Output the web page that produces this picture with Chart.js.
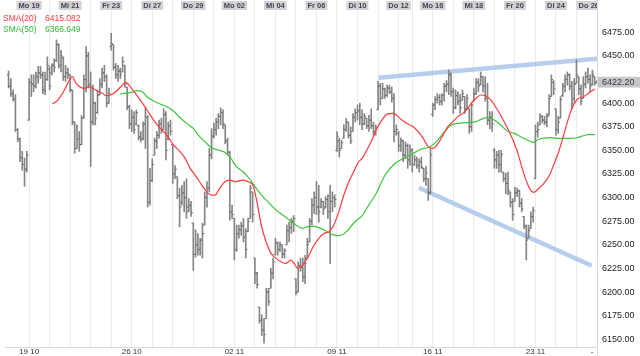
<!DOCTYPE html>
<html><head><meta charset="utf-8">
<script src="https://cdn.jsdelivr.net/npm/chart.js@4.4.0/dist/chart.umd.min.js"></script>
<style>html,body{margin:0;padding:0;background:#fff;}canvas{display:block;}</style>
</head><body>
<canvas id="c" width="640" height="356"></canvas>
<script>
// ---- hourly OHLC bars (one row per trading day) ----
const opens = [
6430,6418,6410,6404,6372,6362,6342,6335,6330,
6382,6422,6420,6418,6428,6432,6430,6414,6425,
6436,6432,6440,6445,6462,6440,6448,6428,6432,
6430,6414,6380,6352,6362,6356,6384,6425,6450,
6418,6380,6400,6390,6409,6420,6432,6428,6400,
6460,6462,6438,6430,6434,6433,6440,6417,6396,
6378,6385,6378,6376,6364,6362,6378,6385,6295,
6318,6345,6360,6366,6378,6372,6388,6362,6376,
6356,6325,6322,6302,6295,6305,6300,6290,6292,
6273,6240,6250,6245,6255,6271,6300,6310,6345,
6365,6372,6380,6386,6390,6377,6360,6348,6285,
6278,6245,6262,6266,6270,6258,6264,6278,6306,
6236,6220,6184,6170,6160,6172,6200,6204,6220,
6240,6252,6245,6250,6240,6250,6265,6268,6275,
6214,6200,6228,6226,6216,6236,6253,6275,6292,
6300,6290,6290,6296,6290,6298,6302,6296,6300,
6350,6360,6352,6363,6372,6380,6366,6370,6385,
6390,6392,6385,6378,6384,6376,6382,6376,6370,
6393,6418,6405,6415,6408,6416,6412,6405,6370,
6368,6355,6360,6345,6355,6340,
6350,6335,6340,6334,6338,6331,6320,6320,6305,
6388,6398,6404,6406,6402,6408,6418,6420,6430,
6412,6395,6408,6402,6403,6407,6394,6394,6375,
6402,6410,6422,6420,6428,6418,6405,6382,6385,
6350,6340,6345,6335,6327,6320,6315,6306,6295,
6296,6305,6307,6294,6280,6270,6257,6267,6280,
6320,6370,6377,6386,6382,6380,6387,6407,6422,
6394,6372,6384,6408,6418,6425,6430,6418,6405,
6421,6428,6415,6405,6420,6428,6425,6420,6428,
6422];
const highs = [
6434,6426,6414,6409,6373,6363,6349,6342,6349,
6426,6430,6430,6433,6439,6439,6433,6433,6449,
6439,6442,6447,6467,6463,6456,6449,6440,6437,
6430,6414,6380,6377,6370,6387,6430,6460,6454,
6433,6419,6401,6414,6426,6437,6440,6430,6416,
6474,6462,6442,6440,6437,6449,6440,6417,6398,
6393,6391,6393,6377,6370,6380,6396,6387,6331,
6341,6363,6370,6382,6384,6394,6391,6380,6382,
6356,6334,6322,6310,6313,6317,6320,6299,6296,
6273,6266,6262,6257,6273,6306,6317,6352,6373,
6379,6384,6389,6395,6393,6377,6363,6349,6292,
6278,6271,6271,6274,6278,6267,6278,6313,6306,
6236,6221,6184,6176,6172,6204,6204,6225,6236,
6257,6253,6253,6250,6246,6271,6274,6278,6281,
6214,6232,6236,6236,6239,6257,6278,6299,6306,
6317,6313,6299,6296,6301,6303,6313,6306,6303,
6370,6363,6361,6377,6384,6380,6375,6389,6394,
6398,6400,6393,6389,6384,6387,6394,6380,6377,
6423,6421,6421,6416,6419,6419,6417,6410,6377,
6370,6363,6361,6359,6357,6356,
6352,6345,6343,6341,6343,6331,6333,6320,6352,
6400,6407,6410,6409,6410,6421,6424,6435,6432,
6416,6414,6412,6409,6414,6407,6409,6394,6401,
6416,6426,6426,6433,6428,6428,6421,6391,6391,
6352,6349,6350,6350,6327,6326,6327,6306,6299,
6311,6310,6308,6299,6280,6271,6271,6285,6290,
6377,6380,6389,6387,6386,6389,6409,6430,6424,
6394,6386,6407,6421,6430,6433,6431,6423,6426,
6446,6428,6419,6428,6433,6437,6430,6435,6428,
6424];
const lows = [
6416,6407,6402,6370,6359,6338,6329,6312,6327,
6382,6407,6412,6416,6421,6426,6410,6409,6424,
6414,6430,6433,6444,6437,6433,6424,6423,6426,
6412,6377,6347,6352,6349,6356,6384,6412,6416,
6333,6377,6377,6389,6409,6416,6423,6396,6400,
6456,6435,6426,6423,6426,6433,6417,6393,6373,
6370,6368,6377,6361,6359,6361,6352,6290,6292,
6317,6345,6352,6363,6368,6372,6340,6361,6366,
6315,6320,6299,6269,6292,6285,6278,6285,6280,
6223,6237,6239,6239,6236,6271,6290,6306,6341,
6363,6366,6373,6377,6373,6357,6345,6276,6278,
6234,6243,6257,6260,6253,6236,6264,6278,6274,
6209,6204,6167,6154,6146,6172,6186,6204,6214,
6239,6239,6243,6236,6236,6250,6253,6262,6264,
6197,6200,6222,6211,6209,6236,6253,6271,6283,
6282,6274,6289,6282,6289,6278,6230,6285,6290,
6349,6343,6352,6363,6370,6363,6357,6370,6380,
6382,6377,6372,6377,6373,6370,6373,6366,6366,
6393,6398,6405,6405,6407,6410,6401,6359,6366,
6349,6349,6338,6341,6331,6334,
6327,6334,6331,6327,6331,6317,6313,6297,6304,
6386,6393,6400,6398,6398,6402,6412,6409,6407,
6389,6394,6398,6389,6403,6389,6394,6368,6370,
6402,6409,6412,6419,6412,6402,6377,6373,6370,
6331,6331,6327,6327,6317,6304,6303,6290,6276,
6296,6301,6290,6285,6267,6234,6257,6267,6274,
6320,6364,6377,6379,6377,6375,6387,6407,6409,
6366,6368,6384,6407,6412,6419,6414,6394,6402,
6421,6409,6398,6405,6416,6421,6412,6419,6419,
6421];
const closes = [
6418,6410,6404,6372,6362,6342,6335,6330,6345,
6422,6420,6418,6428,6432,6430,6414,6425,6440,
6418,6440,6438,6462,6440,6450,6428,6432,6430,
6414,6380,6352,6362,6356,6384,6425,6450,6420,
6380,6400,6384,6408,6420,6432,6428,6400,6410,
6463,6438,6430,6434,6430,6444,6420,6396,6378,
6385,6372,6390,6364,6362,6378,6385,6295,6318,
6335,6360,6366,6378,6372,6388,6350,6376,6370,
6325,6330,6302,6290,6305,6300,6285,6292,6284,
6240,6250,6245,6255,6262,6300,6310,6345,6365,
6372,6380,6386,6390,6378,6360,6348,6285,6282,
6245,6262,6266,6270,6258,6245,6275,6310,6282,
6220,6208,6170,6160,6155,6200,6190,6220,6232,
6252,6245,6250,6240,6244,6265,6268,6275,6278,
6200,6228,6226,6216,6230,6250,6275,6292,6300,
6290,6285,6296,6288,6298,6285,6296,6300,6298,
6365,6350,6358,6372,6380,6366,6360,6385,6390,
6392,6385,6378,6386,6376,6382,6376,6370,6374,
6418,6405,6415,6408,6416,6412,6405,6370,6372,
6355,6360,6345,6355,6340,6350,
6335,6340,6334,6338,6332,6320,6326,6305,6345,
6398,6404,6406,6402,6408,6418,6420,6430,6412,
6395,6408,6402,6395,6410,6393,6405,6375,6398,
6410,6422,6418,6428,6418,6405,6382,6385,6378,
6340,6345,6335,6346,6320,6315,6308,6295,6282,
6305,6307,6294,6288,6270,6255,6265,6280,6286,
6370,6372,6386,6382,6380,6386,6405,6425,6415,
6372,6380,6404,6418,6425,6430,6418,6400,6420,
6430,6415,6402,6420,6428,6425,6418,6430,6422,
6422.2];

// ---- moving averages (x = bar index) ----
const sma20X = [19.2,21.6,24.5,26.7,27.9,29.6,31.8,33.2,35.4,36.8,39.0,41.2,42.6,44.8,47.0,49.2,51.3,52.8,55.0,57.8,60.7,63.6,66.5,69.4,72.3,75.2,77.4,79.6,81.8,84.7,86.8,89.0,90.5,92.6,94.8,97.0,99.2,102.8,105.0,107.1,108.6,110.8,112.9,115.1,117.3,119.4,121.6,123.8,125.2,126.7,128.9,131.0,133.2,135.4,138.3,140.5,142.6,144.8,147.0,149.2,151.3,153.5,155.0,157.1,159.3,161.5,163.7,165.8,168.7,171.6,174.5,177.4,179.6,181.8,184.0,186.1,188.3,190.5,192.6,194.8,197.0,199.2,201.3,203.5,205.7,207.1,209.3,211.5,214.4,217.3,220.2,223.1,225.2,227.4,228.9,230.3,232.5,234.7,236.8,239.0,241.2,243.4,245.5,247.7,249.9,252.1,254.2,257.1];
const sma20Y = [6399.1,6403.3,6413.9,6424.5,6428.0,6420.9,6416.4,6415.7,6417.4,6415.7,6412.8,6410.4,6407.9,6408.6,6412.1,6417.4,6422.0,6419.2,6412.1,6403.3,6392.7,6382.1,6373.3,6366.2,6355.7,6348.6,6341.5,6331.0,6323.9,6313.3,6306.3,6302.7,6302.7,6309.8,6316.8,6318.6,6316.8,6318.6,6316.8,6313.3,6299.2,6271.0,6253.3,6241.0,6235.7,6232.1,6230.4,6233.9,6230.4,6225.1,6228.6,6235.7,6246.3,6255.1,6262.1,6263.9,6271.0,6285.1,6302.7,6316.8,6327.4,6338.0,6341.5,6350.4,6361.0,6373.3,6382.1,6388.1,6389.2,6383.9,6378.6,6375.1,6369.8,6362.7,6353.9,6352.1,6357.4,6366.2,6375.1,6380.4,6385.7,6389.2,6394.5,6401.5,6406.8,6408.6,6407.5,6403.3,6392.7,6380.4,6366.2,6348.6,6331.0,6315.1,6308.0,6305.6,6309.8,6315.1,6322.1,6334.5,6348.6,6366.2,6383.9,6398.0,6405.1,6406.8,6410.4,6415.1];
const sma50X = [48.9,50.6,53.5,56.4,58.6,60.7,63.6,66.5,69.4,72.3,75.2,78.1,81.0,83.2,86.1,89.0,91.9,94.8,97.0,99.9,102.8,105.7,108.6,111.5,114.4,117.3,120.2,123.1,126.0,128.9,131.0,133.9,136.8,139.7,141.9,144.1,146.3,148.4,150.6,152.8,155.0,157.9,160.8,165.1,169.5,173.8,177.4,181.0,184.7,187.6,191.2,194.1,197.0,201.3,204.9,207.1,210.0,212.9,215.8,218.7,221.6,224.5,227.4,230.0,231.8,233.9,237.6,241.9,246.3,249.2,252.1,255.0,257.1];
const sma50Y = [6409.7,6410.4,6411.1,6413.2,6412.1,6406.8,6402.2,6399.1,6396.2,6391.7,6384.6,6378.6,6373.3,6366.2,6359.2,6352.8,6350.4,6347.9,6343.3,6332.7,6327.4,6319.7,6309.8,6301.0,6293.9,6286.8,6281.6,6276.3,6271.0,6267.4,6269.2,6269.9,6267.4,6263.9,6261.1,6259.7,6260.4,6264.6,6271.0,6276.3,6280.7,6292.1,6302.7,6323.9,6336.3,6342.2,6346.8,6351.4,6353.9,6359.2,6369.8,6376.8,6378.6,6379.3,6380.4,6382.8,6384.6,6382.1,6376.8,6370.5,6368.0,6364.5,6361.0,6358.5,6361.0,6362.7,6363.4,6362.7,6362.7,6363.4,6365.5,6367.0,6366.6];
const legendNames = ['SMA(20)', 'SMA(50)'];
const legendValues = ['6415.082', '6366.649'];

// ---- hand-drawn trend lines ----
const trendUpX = [162.2, 258.0];
const trendUpY = [6426.9, 6447.1];
const trendLowX = [179.9, 255.7];
const trendLowY = [6310.5, 6227.9];

// ---- axis labels ----
const dayStarts = [9,18,27,36,45,54,63,72,81,90,99,108,117,126,135,144,153,162,171,177,186,195,204,213,222,231,240,249,258];
const dayNames = ['Mo 19','Di 20','Mi 21','Do 22','Fr 23','Mo 26','Di 27','Mi 28','Do 29','Fr 30','Mo 02','Di 03','Mi 04','Do 05','Fr 06','Mo 09','Di 10','Mi 11','Do 12','Fr 13','Mo 16','Di 17','Mi 18','Do 19','Fr 20','Mo 23','Di 24','Mi 25','Do 26'];
const weekStarts = [9,54,99,144,186,231];
const weekLabels = ['19 10','26 10','02 11','09 11','16 11','23 11'];
const priceTicks = [6150,6175,6200,6225,6250,6275,6300,6325,6350,6375,6400,6450,6475];

// ---- layout ----
const FONT = 'Arial, "Liberation Sans", sans-serif';
Chart.defaults.font.family = FONT;
const xMin = -1.565, xMax = 258.0;
const yMin = 6141.85, yMax = 6495.43;
const GRID = '#ebebeb';
const NONE = 'rgba(0,0,0,0)';
const lastPrice = closes[closes.length - 1];

const topTicks = [];
dayStarts.forEach((d, k) => {
  const lbl = k % 2 === 0 ? dayNames[k] : '';
  const pos = Math.min(d, xMax - 3.6);
  if (pos !== d) { topTicks.push({v: d, label: '', grid: true}); topTicks.push({v: pos, label: lbl, grid: false}); }
  else topTicks.push({v: d, label: lbl, grid: true});
});
topTicks.sort((a, b) => a.v - b.v);

const bottomTicks = dayStarts.map(d => {
  const w = weekStarts.indexOf(d);
  return {v: d, label: w >= 0 ? weekLabels[w] : '', grid: true};
});
bottomTicks.push({v: xMax - 2.2, label: '-', grid: false});
bottomTicks.sort((a, b) => a.v - b.v);

const yTicks = priceTicks.concat([lastPrice]).sort((a, b) => a - b);

const bars = closes.map((c, i) => ({x: i, y: [lows[i], highs[i]]}));
const openPts = opens.map((o, i) => ({x: i - 0.45, y: o}));
const closePts = closes.map((c, i) => ({x: i + 0.45, y: c}));
const toPts = (xs, ys) => xs.map((x, k) => ({x, y: ys[k]}));

const overlay = {
  id: 'overlay',
  afterDraw(chart) {
    const c = chart.ctx, a = chart.chartArea;
    c.save();
    c.fillStyle = '#fff';
    c.fillRect(a.right + 0.5, 0, chart.width - a.right, a.top - 0.5);
    c.strokeStyle = '#d8d8d8';
    c.lineWidth = 1;
    c.beginPath();
    c.moveTo(a.right + 0.5, 0); c.lineTo(a.right + 0.5, chart.height);
    c.stroke();
    c.font = '8.5px ' + FONT;
    c.textBaseline = 'alphabetic';
    c.fillStyle = '#ff3838';
    c.fillText(legendNames[0], 3, 20.5);
    c.fillText(legendValues[0], 45, 20.5);
    c.fillStyle = '#33bb33';
    c.fillText(legendNames[1], 3, 31.5);
    c.fillText(legendValues[1], 45, 31.5);
    c.restore();
  }
};

new Chart(document.getElementById('c'), {
  type: 'line',
  data: {
    datasets: [
      {type: 'line', data: toPts(trendUpX, trendUpY), borderColor: 'rgba(165,192,232,0.8)', borderWidth: 4.5, borderCapStyle: 'butt', pointRadius: 0, order: 10, xAxisID: 'x', yAxisID: 'y'},
      {type: 'line', data: toPts(trendLowX, trendLowY), borderColor: 'rgba(165,192,232,0.8)', borderWidth: 4.5, borderCapStyle: 'butt', pointRadius: 0, order: 10, xAxisID: 'x', yAxisID: 'y'},
      {type: 'bar', data: bars, backgroundColor: '#858585', borderWidth: 0, barThickness: 1, grouped: false, order: 6, xAxisID: 'x', yAxisID: 'y'},
      {type: 'line', data: openPts, showLine: false, pointStyle: 'line', pointRadius: 0.7, pointBorderWidth: 1, pointBorderColor: '#666', order: 5, xAxisID: 'x', yAxisID: 'y'},
      {type: 'line', data: closePts, showLine: false, pointStyle: 'line', pointRadius: 0.7, pointBorderWidth: 1, pointBorderColor: '#666', order: 5, xAxisID: 'x', yAxisID: 'y'},
      {type: 'line', data: toPts(sma50X, sma50Y), borderColor: '#3cc43c', borderWidth: 1.2, pointRadius: 0, cubicInterpolationMode: 'monotone', order: 2, xAxisID: 'x', yAxisID: 'y'},
      {type: 'line', data: toPts(sma20X, sma20Y), borderColor: '#ff3c3c', borderWidth: 1.2, pointRadius: 0, cubicInterpolationMode: 'monotone', order: 1, xAxisID: 'x', yAxisID: 'y'}
    ]
  },
  options: {
    responsive: false, animation: false, devicePixelRatio: 1, events: [],
    layout: {padding: 0},
    plugins: {legend: {display: false}, tooltip: {enabled: false}},
    scales: {
      x: {
        type: 'linear', position: 'bottom', min: xMin, max: xMax, bounds: 'data', offset: false,
        afterBuildTicks: s => { s.ticks = bottomTicks.map(t => ({value: t.v})); },
        afterFit: s => { s.height = 9; },
        grid: {color: ctx => (bottomTicks[ctx.index] && bottomTicks[ctx.index].grid) ? GRID : NONE, drawTicks: false, offset: false},
        border: {display: true, color: '#d8d8d8'},
        ticks: {autoSkip: false, maxRotation: 0, minRotation: 0, padding: 0, font: {size: 8}, color: '#333',
          callback: (v, i) => bottomTicks[i] ? bottomTicks[i].label : ''}
      },
      xTop: {
        type: 'linear', position: 'top', min: xMin, max: xMax, bounds: 'data', offset: false,
        afterBuildTicks: s => { s.ticks = topTicks.map(t => ({value: t.v})); },
        afterFit: s => { s.height = 13; },
        grid: {drawOnChartArea: false, drawTicks: true, tickLength: 13, color: ctx => (topTicks[ctx.index] && topTicks[ctx.index].grid) ? GRID : NONE},
        border: {display: false},
        ticks: {autoSkip: false, maxRotation: 0, minRotation: 0, padding: -10, font: {size: 7.5, weight: 'bold'}, color: '#4b3d5c',
          callback: (v, i) => topTicks[i] ? topTicks[i].label : '',
          showLabelBackdrop: true,
          backdropColor: ctx => (topTicks[ctx.index] && topTicks[ctx.index].label) ? '#d2d2d2' : NONE,
          backdropPadding: {top: 0, bottom: 0, left: 2, right: 2}}
      },
      y: {
        type: 'linear', position: 'right', min: yMin, max: yMax, bounds: 'data', beginAtZero: false,
        afterBuildTicks: s => { s.ticks = yTicks.map(v => ({value: v})); },
        afterFit: s => { s.width = 43; },
        grid: {display: false, drawTicks: true, tickLength: 5},
        border: {display: true, color: '#d8d8d8'},
        ticks: {padding: 0, font: {size: 9}, autoSkip: false,
          color: ctx => (ctx.tick && ctx.tick.value === lastPrice) ? '#3c3450' : '#222',
          callback: v => Number(v).toFixed(2),
          showLabelBackdrop: true,
          backdropColor: ctx => (ctx.tick && ctx.tick.value === lastPrice) ? '#c6c6c6' : NONE,
          backdropPadding: {top: 0, bottom: 0, left: 7, right: 9}}
      }
    }
  },
  plugins: [overlay]
});
</script>
</body></html>
